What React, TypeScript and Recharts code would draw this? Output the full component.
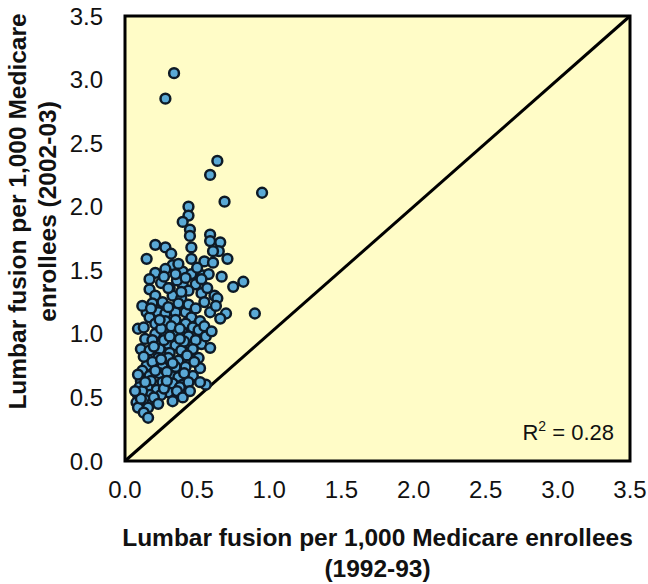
import React from "react";
import {
  ScatterChart,
  Scatter,
  XAxis,
  YAxis,
  ReferenceArea,
  ReferenceLine,
} from "recharts";

// ─── Data ──────────────────────────────────────────────────────────────────

// each hospital referral region: [rate 1992-93, rate 2002-03]
const outliers: [number, number][] = [
  [0.34, 3.05], [0.28, 2.85], [0.64, 2.36], [0.59, 2.25], [0.95, 2.11], [0.69, 2.04],
];

const upperBand: [number, number][] = [
  [0.44, 2.0], [0.44, 1.93], [0.4, 1.88], [0.45, 1.82], [0.45, 1.77], [0.59, 1.78],
  [0.59, 1.73], [0.66, 1.72], [0.21, 1.7], [0.28, 1.68], [0.32, 1.63], [0.46, 1.68],
  [0.65, 1.65], [0.61, 1.65], [0.15, 1.59], [0.46, 1.59], [0.71, 1.59], [0.55, 1.57],
  [0.61, 1.56], [0.33, 1.54], [0.28, 1.51], [0.21, 1.48], [0.4, 1.49], [0.46, 1.47],
  [0.54, 1.46], [0.58, 1.47], [0.67, 1.45], [0.17, 1.43], [0.4, 1.39], [0.49, 1.39],
  [0.53, 1.43], [0.75, 1.37], [0.82, 1.41], [0.17, 1.35], [0.31, 1.36], [0.53, 1.32],
  [0.62, 1.3], [0.21, 1.3], [0.33, 1.3], [0.39, 1.28], [0.36, 1.42], [0.25, 1.4],
  [0.44, 1.34], [0.57, 1.36], [0.5, 1.52], [0.37, 1.55], [0.27, 1.45], [0.35, 1.47],
  [0.42, 1.44], [0.39, 1.33], [0.3, 1.36],
];

const middleBand: [number, number][] = [
  [0.9, 1.16], [0.64, 1.28], [0.7, 1.16], [0.59, 1.17], [0.63, 1.22], [0.09, 1.04],
  [0.15, 1.17], [0.17, 1.13], [0.23, 1.17], [0.28, 1.16], [0.35, 1.17], [0.42, 1.17],
  [0.46, 1.13], [0.52, 1.1], [0.21, 1.08], [0.28, 1.1], [0.35, 1.11], [0.42, 1.08],
  [0.47, 1.05], [0.51, 1.03], [0.21, 1.0], [0.28, 1.01], [0.35, 0.99], [0.4, 1.01],
  [0.14, 0.96], [0.19, 0.95], [0.3, 0.92], [0.35, 0.91], [0.45, 0.92], [0.53, 0.92],
  [0.59, 0.89], [0.11, 0.88], [0.17, 0.87], [0.24, 0.88], [0.31, 0.85], [0.39, 0.87],
  [0.46, 0.85], [0.12, 1.22], [0.19, 1.24], [0.26, 1.25], [0.3, 1.21], [0.37, 1.24],
  [0.44, 1.23], [0.49, 1.2], [0.55, 1.25], [0.13, 1.05], [0.25, 1.04], [0.32, 1.06],
  [0.38, 1.04], [0.44, 0.98], [0.49, 0.95], [0.2, 0.9], [0.27, 0.95], [0.41, 0.94],
  [0.18, 1.2], [0.24, 1.11], [0.31, 0.98], [0.38, 0.96], [0.47, 0.88], [0.56, 0.98],
  [0.55, 1.06], [0.6, 1.02], [0.66, 1.12],
];

const lowerBand: [number, number][] = [
  [0.23, 0.81], [0.3, 0.81], [0.37, 0.79], [0.51, 0.81], [0.26, 0.74], [0.35, 0.74],
  [0.42, 0.74], [0.52, 0.73], [0.15, 0.75], [0.12, 0.71], [0.17, 0.67], [0.24, 0.69],
  [0.32, 0.67], [0.37, 0.66], [0.47, 0.67], [0.11, 0.63], [0.18, 0.63], [0.26, 0.62],
  [0.33, 0.61], [0.4, 0.6], [0.1, 0.58], [0.16, 0.57], [0.22, 0.56], [0.3, 0.54],
  [0.38, 0.58], [0.56, 0.6], [0.09, 0.52], [0.17, 0.52], [0.25, 0.52], [0.08, 0.46],
  [0.14, 0.48], [0.19, 0.46], [0.09, 0.42], [0.16, 0.42], [0.13, 0.38], [0.16, 0.34],
  [0.43, 0.83], [0.48, 0.78], [0.33, 0.77], [0.19, 0.78], [0.13, 0.82], [0.21, 0.71],
  [0.29, 0.7], [0.41, 0.69], [0.44, 0.62], [0.36, 0.55], [0.27, 0.57], [0.12, 0.55],
  [0.2, 0.5], [0.11, 0.49], [0.23, 0.45], [0.07, 0.55], [0.14, 0.62], [0.09, 0.68],
  [0.4, 0.5], [0.33, 0.47], [0.29, 0.63], [0.45, 0.55], [0.52, 0.62], [0.25, 0.8],
];

const axisTicks = [0, 0.5, 1, 1.5, 2, 2.5, 3, 3.5];
const xTitle = ["Lumbar fusion per 1,000 Medicare enrollees", "(1992-93)"];
const yTitle = ["Lumbar fusion per 1,000 Medicare", "enrollees (2002-03)"];
const rSquared = "0.28";

const points = [...outliers, ...upperBand, ...middleBand, ...lowerBand].map(([x, y]) => ({ x, y }));

// ─── Styling ───────────────────────────────────────────────────────────────

const FONT = "Arial, 'Liberation Sans', sans-serif";
const PLOT_BG = "#fffcc7";
const DOT_FILL = "#5aa9d6";
const DOT_STROKE = "#0e1a26";

function Dot(props: { cx?: number; cy?: number }) {
  const { cx, cy } = props;
  if (cx == null || cy == null) return null;
  return <circle cx={cx} cy={cy} r={4.9} fill={DOT_FILL} stroke={DOT_STROKE} strokeWidth={2.5} />;
}

function XTitle(props: { viewBox?: { x: number; y: number; width: number; height: number } }) {
  const vb = props.viewBox;
  if (!vb) return null;
  const cx = vb.x + vb.width / 2;
  return (
    <text textAnchor="middle" fontFamily={FONT} fontWeight={700} fontSize={24.5} fill="#111">
      <tspan x={cx} y={vb.y + 85}>{xTitle[0]}</tspan>
      <tspan x={cx} y={vb.y + 116}>{xTitle[1]}</tspan>
    </text>
  );
}

function YTitle(props: { viewBox?: { x: number; y: number; width: number; height: number } }) {
  const vb = props.viewBox;
  if (!vb) return null;
  const cy = vb.y + vb.height / 2 - 27;
  return (
    <g fontFamily={FONT} fontWeight={700} fontSize={24.5} fill="#111">
      <text x={26} y={cy} textAnchor="middle" transform={`rotate(-90, 26, ${cy})`}>{yTitle[0]}</text>
      <text x={56} y={cy} textAnchor="middle" transform={`rotate(-90, 56, ${cy})`}>{yTitle[1]}</text>
    </g>
  );
}

function R2Label(props: { viewBox?: { x: number; y: number; width: number; height: number } }) {
  const vb = props.viewBox;
  if (!vb) return null;
  return (
    <text x={vb.x + vb.width - 16} y={vb.y + vb.height - 21} textAnchor="end" fontFamily={FONT} fontSize={22} fill="#111">
      R<tspan dy={-9} fontSize={14}>2</tspan>
      <tspan dy={9}> = {rSquared}</tspan>
    </text>
  );
}

// ─── Chart ─────────────────────────────────────────────────────────────────

export default function App() {
  return (
    <div style={{ position: "absolute", left: 0, top: 0, width: 648, height: 584, background: "#fff" }}>
      <ScatterChart width={648} height={584} margin={{ top: 16, right: 18, bottom: 0, left: 0 }}>
        <ReferenceArea
          x1={0}
          x2={3.5}
          y1={0}
          y2={3.5}
          fill={PLOT_BG}
          fillOpacity={1}
          stroke="#000"
          strokeWidth={3}
          label={<R2Label />}
        />
        <XAxis
          type="number"
          dataKey="x"
          domain={[0, 3.5]}
          ticks={axisTicks}
          tickFormatter={(v: number) => v.toFixed(1)}
          axisLine={false}
          tickLine={false}
          tickSize={0}
          tickMargin={20}
          height={123}
          tick={{ fill: "#111", fontSize: 24, fontFamily: FONT }}
          label={<XTitle />}
        />
        <YAxis
          type="number"
          dataKey="y"
          domain={[0, 3.5]}
          ticks={axisTicks}
          tickFormatter={(v: number) => v.toFixed(1)}
          axisLine={false}
          tickLine={false}
          tickSize={0}
          tickMargin={22}
          width={125}
          tick={{ fill: "#111", fontSize: 24, fontFamily: FONT }}
          label={<YTitle />}
        />
        <ReferenceLine
          segment={[{ x: 0, y: 0 }, { x: 3.5, y: 3.5 }]}
          stroke="#000"
          strokeWidth={3}
        />
        <Scatter data={points} shape={<Dot />} isAnimationActive={false} />
      </ScatterChart>
    </div>
  );
}
